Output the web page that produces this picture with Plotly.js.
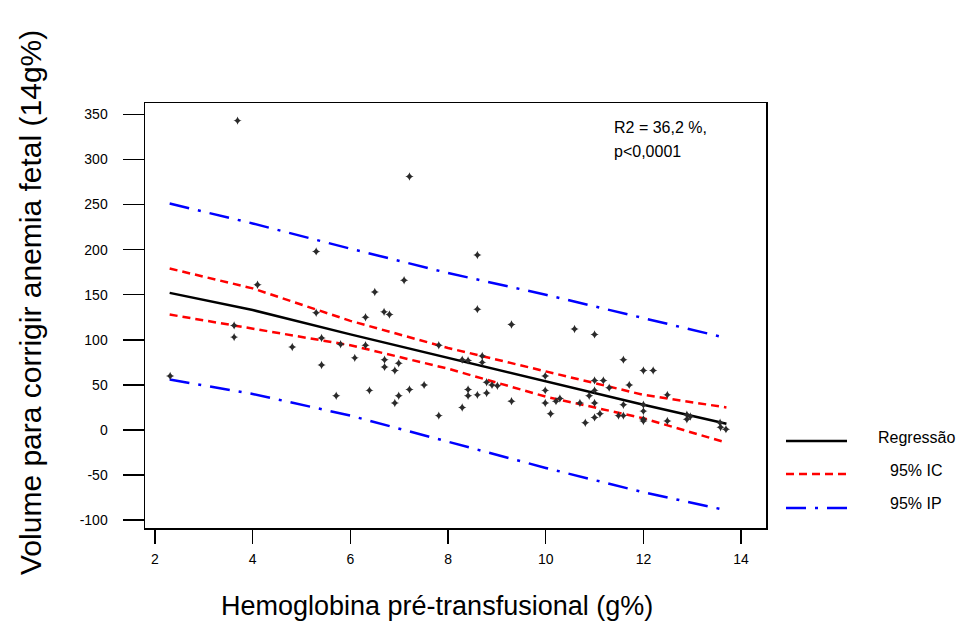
<!DOCTYPE html>
<html>
<head>
<meta charset="utf-8">
<script src="https://cdn.plot.ly/plotly-3.0.1.min.js"></script>
<style>html,body{margin:0;padding:0;background:#fff;}#chart{width:959px;height:624px;}</style>
</head>
<body>
<div id="chart"></div>
<script>
// Observed data points: hemoglobin (g%) vs volume (ml)
const hbX = [2.31,3.62,3.62,3.69,4.10,4.81,5.30,5.30,5.41,5.41,5.71,5.80,6.09,6.31,6.31,6.39,6.50,6.69,6.80,6.70,6.70,6.91,6.91,6.99,6.99,7.10,7.21,7.21,7.51,7.81,7.81,8.29,8.41,8.29,8.41,8.41,8.60,8.60,8.60,8.70,8.70,8.79,8.79,8.90,9.01,9.30,9.30,9.99,9.99,9.99,10.10,10.21,10.29,10.59,10.70,10.81,10.89,11.00,11.00,11.18,11.00,11.00,11.00,11.11,11.30,11.59,11.71,11.59,11.49,11.59,12.00,12.20,12.00,12.00,12.00,12.00,12.49,12.49,12.89,12.89,12.96,13.57,13.58,13.69];
const volY = [60,116,103,343,161,92,198,130,102,72,38,95,80,125,94,44,153,131,128,78,70,66,30,74,38,166,281,45,50,94,16,78,77,25,45,38,194,134,39,82,75,53,41,50,49,117,32,60,44,30,18,32,35,112,30,8,38,106,55,55,44,30,14,18,47,78,50,28,16,16,66,66,28,21,12,10,39,10,17,12,15,8,3,1];

// Fitted curves
const fitX    = [2.3, 4, 6, 8, 10, 12, 13.7];
const regY    = [152, 133, 106, 80, 54, 28, 7];
const icUpper = [179, 157, 121, 91, 65, 39, 25];
const icLower = [128, 112, 94, 68, 37, 13, -14];
const ipUpper = [251, 229, 201, 174, 150, 124, 102];
const ipLower = [56, 40, 16, -13, -42, -69, -89];

const xTicks = [2, 4, 6, 8, 10, 12, 14];
const yTicks = [-100, -50, 0, 50, 100, 150, 200, 250, 300, 350];

const legendNames = ['Regressão', '95% IC', '95% IP'];
const statLines = ['R2 = 36,2 %,', 'p<0,0001'];
const xTitle = 'Hemoglobina pré-transfusional (g%)';
const yTitle = 'Volume para corrigir anemia fetal (14g%)';

const FONT = 'Arial, "Liberation Sans", Helvetica, sans-serif';
const ipDash = '20px,9px,3px,9px';
const icDash = '8px,5px';

const traces = [
  {x: fitX, y: ipUpper, mode: 'lines', line: {color: '#0000ff', width: 2.5, dash: ipDash}, showlegend: false, hoverinfo: 'skip'},
  {x: fitX, y: ipLower, mode: 'lines', line: {color: '#0000ff', width: 2.5, dash: ipDash}, showlegend: false, hoverinfo: 'skip'},
  {x: fitX, y: icUpper, mode: 'lines', line: {color: '#ff0000', width: 2.5, dash: icDash}, showlegend: false, hoverinfo: 'skip'},
  {x: fitX, y: icLower, mode: 'lines', line: {color: '#ff0000', width: 2.5, dash: icDash}, showlegend: false, hoverinfo: 'skip'},
  {x: fitX, y: regY, mode: 'lines', line: {color: '#000000', width: 2.5}, showlegend: false},
  {x: hbX, y: volY, mode: 'markers', marker: {symbol: 'star-diamond', size: 6, color: '#2a2a2a', line: {width: 0}}, showlegend: false}
];

const L = 145, R = 766, T = 103, B = 528;
const px = v => (v - L) / (R - L);
const py = v => (B - v) / (B - T);

const legendRows = [
  {y: 441, ty: 437, color: '#000000', dash: 'solid'},
  {y: 474, ty: 470, color: '#ff0000', dash: icDash},
  {y: 508, ty: 503, color: '#0000ff', dash: ipDash}
];

const shapes = legendRows.map(r => ({
  type: 'line', xref: 'paper', yref: 'paper',
  x0: px(786), x1: px(847), y0: py(r.y), y1: py(r.y),
  line: {color: r.color, width: 2.5, dash: r.dash}
}));

const annotations = legendRows.map((r, i) => ({
  xref: 'paper', yref: 'paper', x: px(916), y: py(r.ty),
  xanchor: 'center', yanchor: 'middle', showarrow: false,
  text: legendNames[i], font: {family: FONT, size: 16, color: '#000'}
})).concat(statLines.map((t, i) => ({
  xref: 'paper', yref: 'paper', x: px(612), y: py(127 + i * 25),
  xanchor: 'left', yanchor: 'middle', showarrow: false,
  text: t, font: {family: FONT, size: 16, color: '#000'}
}))).concat([
  {xref: 'paper', yref: 'paper', x: px(437), y: py(606), xanchor: 'center', yanchor: 'middle',
   showarrow: false, text: xTitle, font: {family: FONT, size: 27, color: '#000'}},
  {xref: 'paper', yref: 'paper', x: px(30), y: py(303), xanchor: 'center', yanchor: 'middle',
   showarrow: false, textangle: -90, text: yTitle, font: {family: FONT, size: 30, color: '#000'}}
]);

const layout = {
  width: 959, height: 624,
  margin: {l: L, r: 959 - R, t: T, b: 624 - B},
  paper_bgcolor: '#ffffff', plot_bgcolor: '#ffffff',
  font: {family: FONT, color: '#000'},
  showlegend: false,
  xaxis: {
    range: [1.795, 14.51], tickvals: xTicks, ticktext: xTicks.map(String),
    ticks: 'outside', ticklen: 14, tickwidth: 1.5, tickcolor: '#000',
    ticklabelstandoff: 4,
    showgrid: false, zeroline: false,
    showline: true, mirror: true, linecolor: '#000', linewidth: 1.5,
    tickfont: {family: FONT, size: 14, color: '#000'}
  },
  yaxis: {
    range: [-108.6, 362.5], tickvals: yTicks, ticktext: yTicks.map(String),
    ticks: 'outside', ticklen: 21, tickwidth: 1.5, tickcolor: '#000',
    ticklabelstandoff: 12,
    showgrid: false, zeroline: false,
    showline: true, mirror: true, linecolor: '#000', linewidth: 1.5,
    tickfont: {family: FONT, size: 14, color: '#000'}
  },
  shapes: shapes,
  annotations: annotations
};

Plotly.newPlot('chart', traces, layout, {displayModeBar: false, staticPlot: true});
</script>
</body>
</html>
